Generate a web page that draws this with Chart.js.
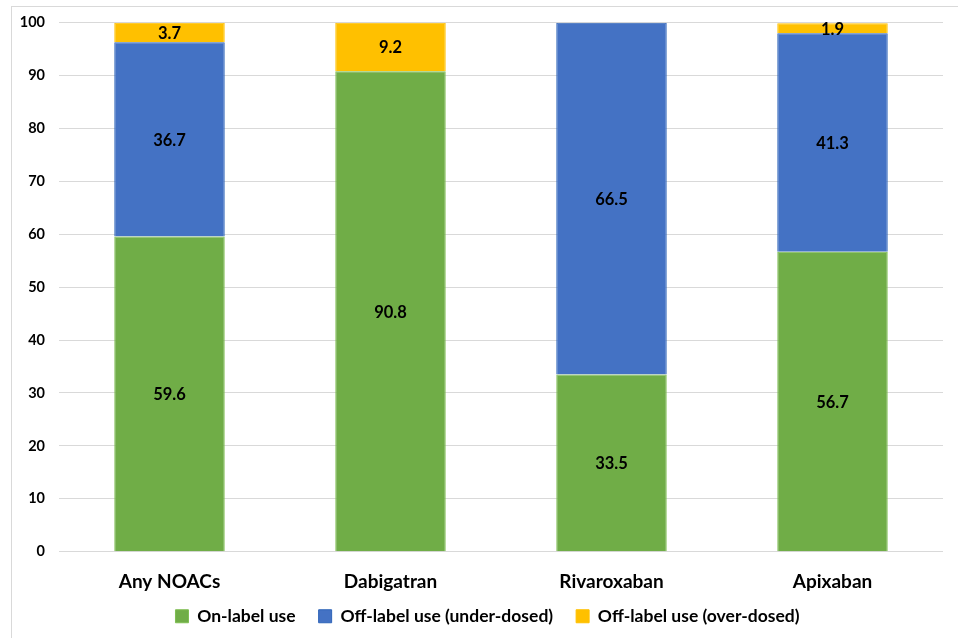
<!DOCTYPE html>
<html lang="en">
<head>
  <meta charset="UTF-8">
  <title>NOAC dosing</title>
  <style>
    html, body {
      margin: 0;
      padding: 0;
      background: #ffffff;
    }
    #wrap {
      position: relative;
      width: 958px;
      height: 638px;
      overflow: hidden;
    }
    #frame {
      position: absolute;
      left: 11px;
      top: 6px;
      width: 960px;
      height: 650px;
      border: 1px solid #d9d9d9;
    }
    canvas {
      position: absolute;
      left: 0;
      top: 0;
    }
  </style>
</head>
<body>
  <div id="wrap">
    <div id="frame"></div>
    <canvas id="chart" width="958" height="638"></canvas>
  </div>

  <script src="https://cdn.jsdelivr.net/npm/chart.js"></script>
  <script>
    const categories = ['Any NOACs', 'Dabigatran', 'Rivaroxaban', 'Apixaban'];
    const onLabel = [59.6, 90.8, 33.5, 56.7];
    const underDosed = [36.7, 0, 66.5, 41.3];
    const overDosed = [3.7, 9.2, 0, 1.9];
    const yTicks = [0, 10, 20, 30, 40, 50, 60, 70, 80, 90, 100];

    const FONT = 'Lato, "Open Sans", sans-serif';

    // draws the value in the middle of each segment
    const valueLabels = {
      id: 'valueLabels',
      afterDatasetsDraw(chart) {
        const ctx = chart.ctx;
        ctx.save();
        ctx.font = 'bold 16.5px ' + FONT;
        ctx.fillStyle = '#000000';
        ctx.textAlign = 'center';
        ctx.textBaseline = 'middle';
        chart.data.datasets.forEach((ds, i) => {
          const meta = chart.getDatasetMeta(i);
          meta.data.forEach((bar, j) => {
            const v = ds.data[j];
            if (!v) return;
            const mid = (bar.y + bar.base) / 2;
            ctx.fillText(v.toFixed(1), bar.x, mid + 1);
          });
        });
        ctx.restore();
      }
    };

    new Chart(document.getElementById('chart'), {
      type: 'bar',
      data: {
        labels: categories,
        datasets: [
          {
            label: 'On-label use',
            data: onLabel,
            backgroundColor: '#70ad47',
            borderColor: '#7fbf52',
            borderWidth: 1
          },
          {
            label: 'Off-label use (under-dosed)',
            data: underDosed,
            backgroundColor: '#4472c4',
            borderColor: '#2e64b8',
            borderWidth: 1
          },
          {
            label: 'Off-label use (over-dosed)',
            data: overDosed,
            backgroundColor: '#ffc000',
            borderColor: '#ffc000',
            borderWidth: 1
          }
        ]
      },
      options: {
        responsive: false,
        animation: false,
        layout: {
          // left padding only nudges the legend right; y axis gets narrower
          padding: { left: 32, right: 15, top: 17, bottom: 3 }
        },
        datasets: {
          bar: {
            categoryPercentage: 0.5,
            barPercentage: 1
          }
        },
        scales: {
          x: {
            stacked: true,
            grid: { display: false },
            border: { display: false },
            afterFit(axis) {
              // tighter gap to the legend; let labels spill past the box
              axis.height -= 20;
              axis._computeLabelArea = () => undefined;
            },
            ticks: {
              color: '#000000',
              padding: 11,
              font: { family: FONT, size: 19, weight: 'bold' }
            }
          },
          y: {
            stacked: true,
            min: 0,
            max: 100,
            afterBuildTicks(axis) {
              axis.ticks = yTicks.map(v => ({ value: v }));
            },
            afterFit(axis) {
              axis.width = 27;
              axis._computeLabelArea = () => undefined;
            },
            grid: { color: '#d9d9d9', lineWidth: 1, drawTicks: false },
            border: { display: false },
            ticks: {
              color: '#000000',
              padding: 14,
              font: { family: FONT, size: 14.5, weight: 'bold' }
            }
          }
        },
        plugins: {
          legend: {
            position: 'bottom',
            labels: {
              boxWidth: 13,
              boxHeight: 13,
              padding: 23,
              color: '#000000',
              font: { family: FONT, size: 17.5, weight: 'bold' }
            }
          },
          tooltip: { enabled: false }
        }
      },
      plugins: [valueLabels]
    });
  </script>
</body>
</html>
